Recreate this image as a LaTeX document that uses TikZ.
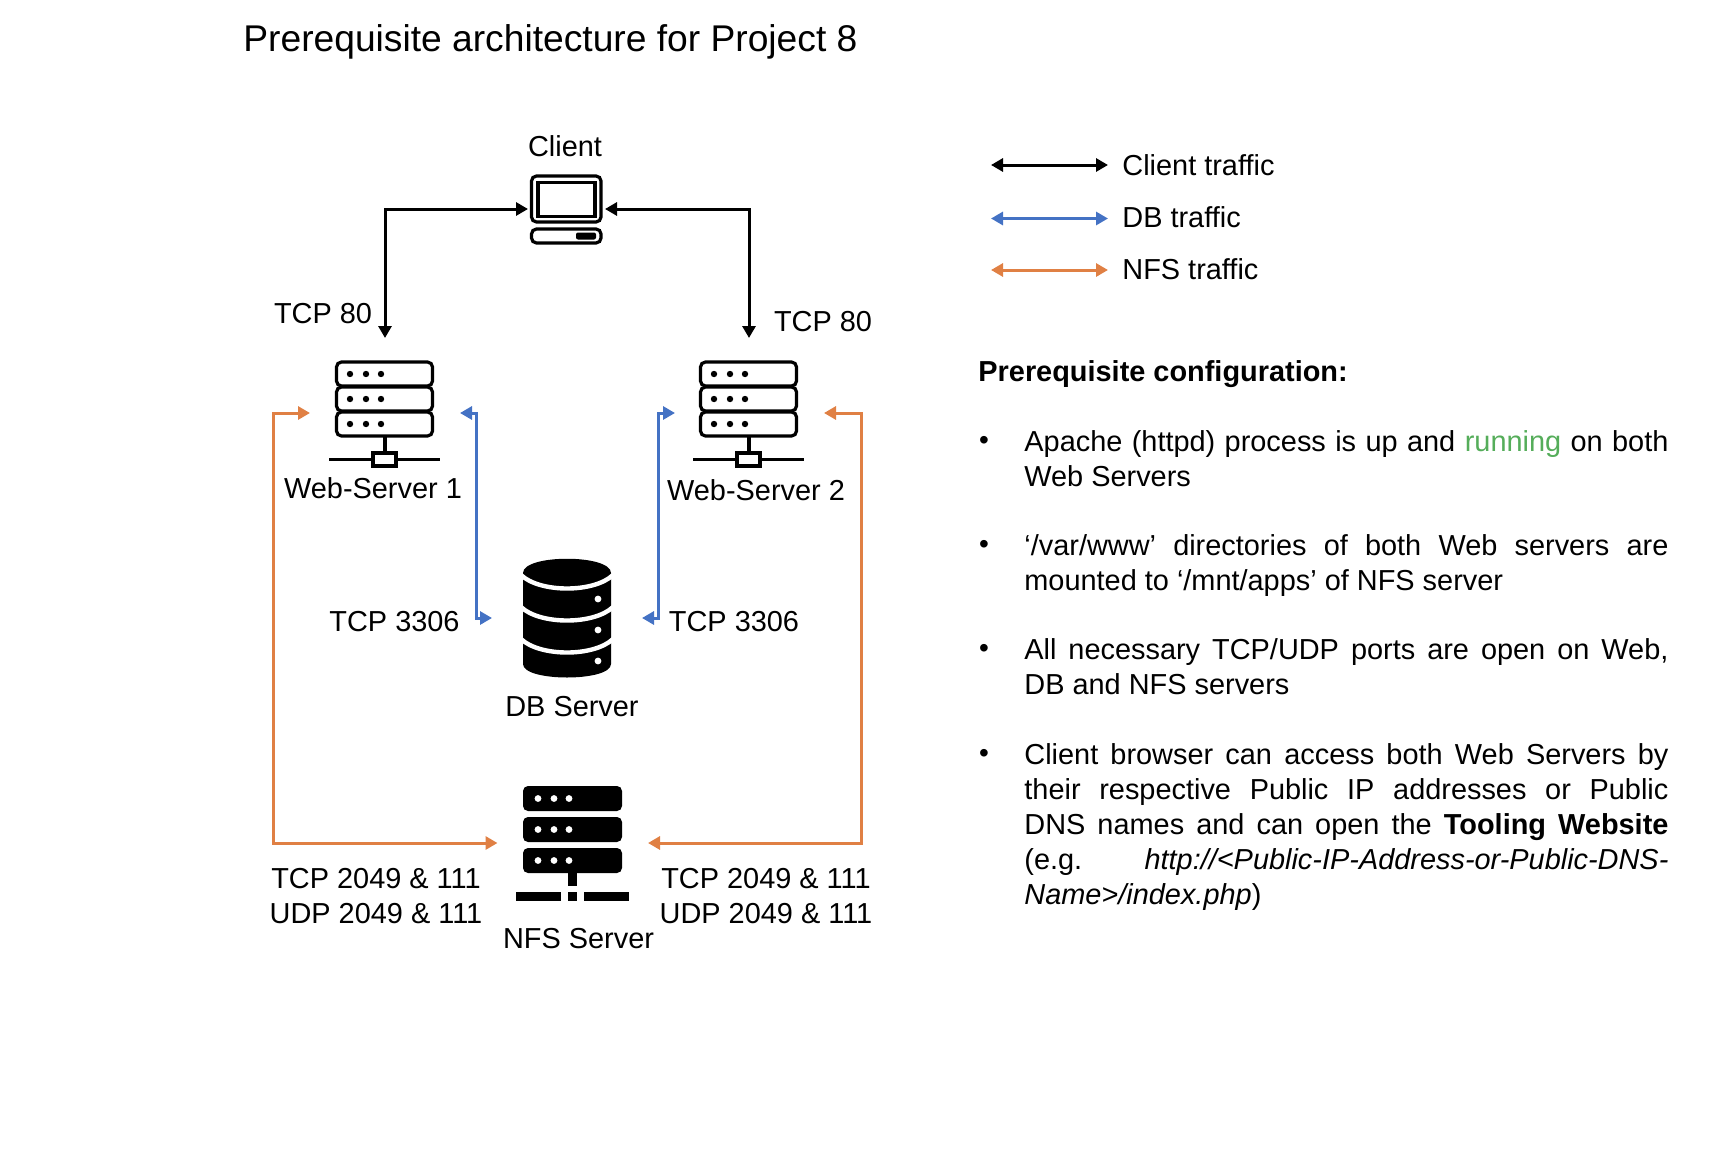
\documentclass[tikz,border=0pt]{standalone}
\usepackage{fontspec}
\setmainfont{Liberation Sans}
\usepackage{xcolor}
\usetikzlibrary{arrows.meta}
\definecolor{dbblue}{HTML}{4472C4}
\definecolor{nfsorange}{HTML}{E08044}
\definecolor{upgreen}{HTML}{55AD5A}

\begin{document}
\begin{tikzpicture}[
    x=0.5pt, y=-0.5pt,
    >={Triangle[length=6pt, width=6.5pt]},
    % Styles
    label/.style={font=\fontsize{14.45}{17.5}\selectfont, inner sep=0pt, anchor=base},
    legendtext/.style={label, anchor=base west},
    para/.style={font=\fontsize{14.45}{17.5}\selectfont, inner sep=0pt, anchor=north west,
        text width=322pt, align=justify},
    bulletmark/.style={font=\fontsize{14}{16}\selectfont, inner sep=0pt, anchor=base},
    clientarr/.style={<->, line width=1.5pt},
    dbarr/.style={<->, line width=1.5pt, dbblue},
    nfsarr/.style={<->, line width=1.5pt, nfsorange},
    icon/.style={line width=1.6pt, rounded corners=2.5pt},
    webrack/.pic={
        \foreach \ytop in {0,25,50} {
            \draw[icon] (-48.5,\ytop+1) rectangle (47.5,\ytop+25);
            \foreach \xdot in {-35,-19,-4} \fill (\xdot,\ytop+13) circle (1.6pt);
        }
        \draw[line width=1.6pt] (0,76) -- (0,92);
        \draw[line width=1.6pt] (-56,98.5) -- (-12,98.5) (12,98.5) -- (55,98.5);
        \draw[line width=1.6pt] (-12,92) rectangle (11,105);
    },
]
\useasboundingbox (0,0) rectangle (1722,1172);

% ===== Title =====
\node[label, anchor=base west, font=\fontsize{18.6}{22}\selectfont] (title) at (243,52)
    {Prerequisite architecture for Project 8};

% ===== Client =====
\node[label] (clientlabel) at (565,156) {Client};
\draw[icon] (531.5,176) rectangle (601,222);
\draw[line width=1.6pt] (538,182.5) rectangle (595,216.5);
\draw[icon] (531.5,229) rectangle (601,243);
\fill[rounded corners=1pt] (576,232.5) rectangle (596,239.5);
\coordinate (clientw) at (528,209);
\coordinate (cliente) at (605,209);

% ===== Web servers =====
\pic (web1) at (385,361) {webrack};
\pic (web2) at (749,361) {webrack};
\node[label] (web1label) at (373,498) {Web-Server 1};
\node[label] (web2label) at (756,500) {Web-Server 2};
\coordinate (web1n) at (385,338);
\coordinate (web2n) at (749,338);
\coordinate (web1w) at (310,413);
\coordinate (web1e) at (460,413);
\coordinate (web2w) at (675,413);
\coordinate (web2e) at (824,413);

% ===== DB server =====
\fill (523,573) .. controls (523,554) and (611,554) .. (611,573)
    -- (611,664) .. controls (611,682) and (523,682) .. (523,664) -- cycle;
\foreach \yarc in {575,607,639}
    \draw[white, line width=2.2pt] (521,\yarc) .. controls (540,\yarc+18) and (594,\yarc+18) .. (613,\yarc);
\foreach \ydot in {599,630,661}
    \fill[white] (598,\ydot) circle (1.7pt);
\node[label] (dblabel) at (572,716) {DB Server};
\coordinate (dbw) at (492,618);
\coordinate (dbe) at (642,618);

% ===== NFS server =====
\foreach \ytop in {786,817,848} {
    \fill[rounded corners=2.5pt] (523,\ytop) rectangle (622,\ytop+25);
    \foreach \xdot in {538,554,569} \fill[white] (\xdot,\ytop+12.5) circle (1.7pt);
}
\fill (568,873) rectangle (577,886);
\fill (568,892) rectangle (577,901);
\fill (516,892) rectangle (561,901);
\fill (584,892) rectangle (629,901);
\node[label] (nfslabel) at (578.5,948.5) {NFS Server};
\coordinate (nfsw) at (497.5,843);
\coordinate (nfse) at (648,843);

% ===== Connectors =====
\coordinate (dbleft) at (476,618);
\coordinate (dbright) at (658,618);
\coordinate (nfsleft) at (273,843);
\coordinate (nfsright) at (861,843);
\draw[clientarr] (clientw) -| (web1n);
\draw[clientarr] (cliente) -| (web2n);
\draw[dbarr] (web1e) -| (dbleft) -- (dbw);
\draw[dbarr] (dbe) -- (dbright) |- (web2w);
\draw[nfsarr] (web1w) -| (nfsleft) -- (nfsw);
\draw[nfsarr] (web2e) -| (nfsright) -- (nfse);

% ===== Port labels =====
\node[label] (tcp80a) at (323,323) {TCP 80};
\node[label] (tcp80b) at (823,331) {TCP 80};
\node[label] (tcp3306a) at (394.5,631) {TCP 3306};
\node[label] (tcp3306b) at (734,631) {TCP 3306};
\node[label] (tcpnfsa) at (376,888.5) {TCP 2049 \& 111};
\node[label] (udpnfsa) at (376,923) {UDP 2049 \& 111};
\node[label] (tcpnfsb) at (766,888.5) {TCP 2049 \& 111};
\node[label] (udpnfsb) at (766,923) {UDP 2049 \& 111};

% ===== Legend =====
\coordinate (keya) at (991,165);
\coordinate (keyb) at (1108,165);
\coordinate (keyc) at (991,218.5);
\coordinate (keyd) at (1108,218.5);
\coordinate (keye) at (991,270);
\coordinate (keyf) at (1108,270);
\draw[clientarr] (keya) -- (keyb);
\draw[dbarr] (keyc) -- (keyd);
\draw[nfsarr] (keye) -- (keyf);
\node[legendtext] (keyclient) at (1122,175) {Client traffic};
\node[legendtext] (keydb) at (1122,227) {DB traffic};
\node[legendtext] (keynfs) at (1122,279.5) {NFS traffic};

% ===== Configuration list =====
\node[legendtext, font=\fontsize{14.45}{17.5}\selectfont\bfseries] (confhead) at (978,381)
    {Prerequisite configuration:};

\node[bulletmark] (b1) at (984,449) {•};
\node[para] (p1) at (1024,430)
    {Apache (httpd) process is up and \textcolor{upgreen}{running} on both\linebreak Web Servers};
\node[bulletmark] (b2) at (984,553) {•};
\node[para] (p2) at (1024,534)
    {‘/var/www’ directories of both Web servers are\linebreak mounted to ‘/mnt/apps’ of NFS server};
\node[bulletmark] (b3) at (984,657) {•};
\node[para] (p3) at (1024,638)
    {All necessary TCP/UDP ports are open on Web,\linebreak DB and NFS servers};
\node[bulletmark] (b4) at (984,762) {•};
\node[para] (p4) at (1024,743)
    {Client browser can access both Web Servers by\linebreak
     their respective Public IP addresses or Public\linebreak
     DNS names and can open the \textbf{Tooling Website}\linebreak
     (e.g. \textit{http://<Public-IP-Address-or-Public-DNS-}\linebreak
     \textit{Name>/index.php})};

\end{tikzpicture}
\end{document}
